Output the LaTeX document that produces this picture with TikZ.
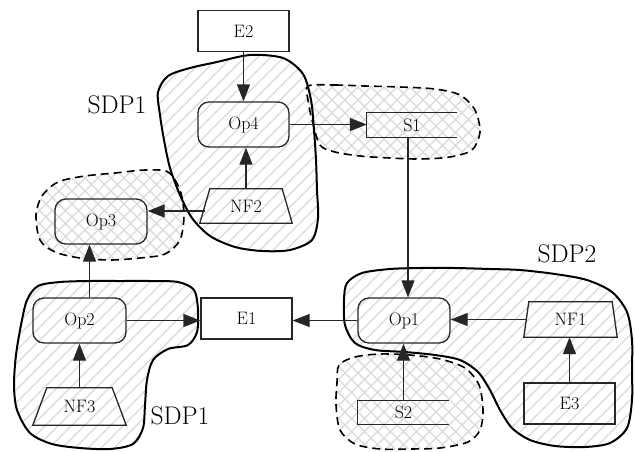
\documentclass[tikz,border=0pt]{standalone}
\usetikzlibrary{arrows.meta,calc}

\begin{document}
\begin{tikzpicture}[x=1pt,y=-1pt,
  nodefont/.style={font=\rmfamily\fontsize{18}{20}\selectfont},
  outline/.style={draw=black!85, line width=1.3pt},
  box/.style={outline, nodefont, inner sep=0pt, minimum width=91pt, minimum height=41pt},
  opbox/.style={box, rounded corners=11pt, minimum height=45pt},
  plain/.style={nodefont, inner sep=0pt, minimum width=92pt},
  arr/.style={draw=black!85, line width=1.3pt, -{Triangle[length=17pt,width=13pt]}},
  hatchline/.style={draw=black!15, line width=1.1pt},
  solidblob/.style={draw=black, line width=2pt},
  dashblob/.style={draw=black, line width=1.6pt, dash pattern=on 8pt off 5pt},
  sdp/.style={font=\rmfamily\fontsize{25.5}{30}\selectfont, inner sep=0pt},
  hatchne/.style={path picture={
    \foreach \c in {-470,-457,...,640} \draw[hatchline] (\c,460) -- (\c+460,0);}},
  hatchx/.style={path picture={
    \foreach \c in {-470,-457,...,640} {
      \draw[hatchline] (\c,460) -- (\c+460,0);
      \draw[hatchline] (\c,0) -- (\c+460,460);}}}
]
\useasboundingbox (0,0) rectangle (635,451);

% region outlines
\path[save path=\blobSDPa] plot[smooth cycle] coordinates {
  (158,92) (168,76) (190,68) (217,62) (250,55) (283,58) (303,74) (311,100)
  (314,130) (316,160) (317,190) (318,218) (312,240) (290,250) (262,251)
  (235,247) (210,236) (192,218) (180,195) (170,168) (164,140) (160,115)};
\path[save path=\blobSDPb] plot[smooth cycle] coordinates {
  (27,300) (38,286) (60,282) (90,281) (120,281) (150,281) (178,282) (194,290)
  (198,310) (197,332) (188,345) (168,349) (153,360) (147,380) (145,405)
  (143,428) (133,444) (110,449) (80,448) (52,444) (30,433) (17,410) (14,385)
  (16,355) (21,325)};
\path[save path=\blobSDPc] plot[smooth cycle] coordinates {
  (344,300) (347,283) (362,273) (390,269) (420,268) (455,268) (490,269)
  (520,270) (555,274) (587,280) (612,292) (627,312) (632,340) (632,370)
  (632,400) (627,428) (610,443) (585,447) (555,446) (530,440) (512,428)
  (500,410) (490,390) (478,372) (460,360) (435,355) (405,352) (375,350)
  (355,343) (345,325)};
\path[save path=\blobOpThree] plot[smooth cycle] coordinates {
  (36,215) (42,196) (58,182) (85,176) (115,173) (145,170) (168,172) (180,190)
  (184,215) (180,240) (165,254) (140,258) (110,260) (80,258) (55,252) (40,240)};
\path[save path=\blobSOne] plot[smooth cycle] coordinates {
  (308,86) (335,85) (365,86) (400,87) (435,89) (460,95) (475,110) (480,132)
  (472,150) (450,157) (420,159) (390,158) (360,156) (335,152) (320,145)
  (312,120) (308,100)};
\path[save path=\blobSTwo] plot[smooth cycle] coordinates {
  (339,365) (355,357) (380,354) (410,355) (440,359) (465,368) (479,385)
  (483,410) (480,430) (468,442) (440,448) (410,449) (380,449) (355,444)
  (340,430) (336,405) (337,383)};

% hatching
\path[use path=\blobSDPa, hatchne];
\path[use path=\blobSDPb, hatchne];
\path[use path=\blobSDPc, hatchne];
\path[use path=\blobOpThree, hatchx];
\path[use path=\blobSOne, hatchx];
\path[use path=\blobSTwo, hatchx];

% borders
\path[use path=\blobOpThree, dashblob];
\path[use path=\blobSOne, dashblob];
\path[use path=\blobSTwo, dashblob];
\path[use path=\blobSDPa, solidblob];
\path[use path=\blobSDPb, solidblob];
\path[use path=\blobSDPc, solidblob];

% labels of the regions
\node[sdp] (lblA) at (117,105) {SDP1};
\node[sdp] (lblB) at (180,416) {SDP1};
\node[sdp] (lblC) at (567,254) {SDP2};

% nodes
\node[box] (E2) at (243.5,31) {E2};
\node[opbox] (Op4) at (243.5,124.5) {Op4};
\node[plain, minimum height=34pt] (NF2) at (246,206) {NF2};
\node[plain, minimum width=90pt, minimum height=24pt] (S1) at (412,125) {S1};
\node[opbox, minimum width=92pt] (Op3) at (101,221.5) {Op3};
\node[opbox, minimum width=93pt] (Op2) at (79.5,320.5) {Op2};
\node[plain, minimum width=93pt, minimum height=37pt] (NF3) at (79.5,406.5) {NF3};
\node[box] (E1) at (246.5,318.5) {E1};
\node[opbox, minimum width=92pt] (Op1) at (404,320.5) {Op1};
\node[plain, minimum width=93pt, minimum height=35pt] (NF1) at (570.5,319.5) {NF1};
\node[box] (E3) at (569.5,403.5) {E3};
\node[plain, minimum width=91pt, minimum height=24pt] (S2) at (403.5,412.5) {S2};

% trapezium outlines
\foreach \n/\d in {NF1/5, NF2/10, NF3/14}
  \draw[outline] (\n.south west) -- (\n.south east) -- ([xshift=-\d pt]\n.north east)
    -- ([xshift=\d pt]\n.north west) -- cycle;
% open store outlines
\foreach \n in {S1, S2}
  \draw[outline] (\n.north east) -- (\n.north west) -- (\n.south west) -- (\n.south east);

% connectors
\draw[arr] (E2) -- (Op4);
\draw[arr] (NF2.north) -- (NF2.north |- Op4.south);
\draw[arr] (Op4.east) -- (Op4.east -| S1.west);
\coordinate (nfa) at ([xshift=5pt,yshift=-5pt]NF2.west);
\draw[arr] (nfa) -- (nfa -| Op3.east);
\coordinate (opa) at ([xshift=10pt]Op2.north);
\draw[arr] (opa) -- (opa |- Op3.south);
\draw[arr] (NF3.north) -- (NF3.north |- Op2.south);
\draw[arr] (Op2.east) -- (Op2.east -| E1.west);
\draw[arr] (Op1.west) -- (Op1.west -| E1.east);
\coordinate (sa) at ([xshift=-4pt]S1.south);
\draw[arr] (sa) -- (sa |- Op1.north);
\coordinate (nfb) at ([xshift=3pt]NF1.west);
\draw[arr] (nfb) -- (nfb -| Op1.east);
\draw[arr] (E3.north) -- (E3.north |- NF1.south);
\draw[arr] (S2.north) -- (S2.north |- Op1.south);
\end{tikzpicture}
\end{document}
